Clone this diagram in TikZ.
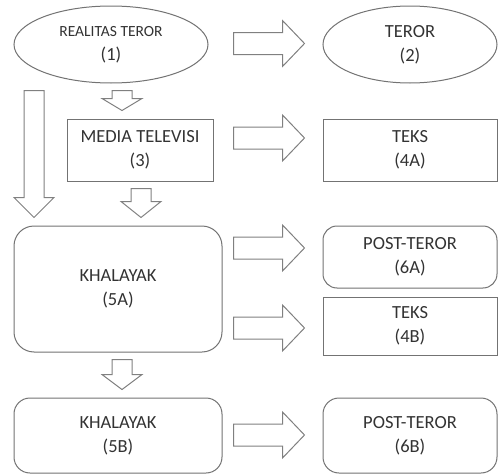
\documentclass[tikz,border=0pt]{standalone}
\usepackage{fontspec}
\setmainfont{Carlito}
\usepackage{tikz}
\usetikzlibrary{positioning, shapes.geometric, calc}

% block arrow to the right, ending in front of node #2, at height #3
\newcommand{\rightblock}[3]{%
  \draw[block arrow] let \p2=(#2.west) in
    ({\x2-89pt},{-#3pt+11pt}) -- ({\x2-40pt},{-#3pt+11pt}) -- ({\x2-40pt},{-#3pt+23pt})
    -- ({\x2-18pt},{-#3pt}) -- ({\x2-40pt},{-#3pt-23pt}) -- ({\x2-40pt},{-#3pt-11pt})
    -- ({\x2-89pt},{-#3pt-11pt}) -- cycle;}
% block arrow downwards from node #1 to node #2, at x #3, head length #4
\newcommand{\downblock}[4]{%
  \draw[block arrow] let \p1=(#1.south), \p2=(#2.north) in
    ({#3pt-10pt},{\y1-7pt}) -- ({#3pt+10pt},{\y1-7pt}) -- ({#3pt+10pt},{\y2+8pt+#4pt})
    -- ({#3pt+20pt},{\y2+8pt+#4pt}) -- ({#3pt},{\y2+8pt}) -- ({#3pt-20pt},{\y2+8pt+#4pt})
    -- ({#3pt-10pt},{\y2+8pt+#4pt}) -- cycle;}

\begin{document}
\begin{tikzpicture}[
    x=1pt, y=-1pt,
    font=\fontsize{18.5}{24}\selectfont,
    text=black!80,
    box/.style={draw=black!55, line width=1pt, fill=white, align=center,
        inner sep=0pt, minimum width=174pt, minimum height=62pt},
    oval/.style={box, ellipse},
    soft box/.style={box, rounded corners=14pt},
    block arrow/.style={draw=black!50, line width=1pt, fill=white, line join=miter}
]
    \useasboundingbox (0,0) rectangle (499,474);

    % --- top row ---
    \node[oval, minimum width=194pt, minimum height=77pt] (realitas) at (111,44.5)
        {{\fontsize{15.5}{22}\selectfont REALITAS TEROR}\\(1)};
    \node[oval, minimum height=77pt] (teror) at (410,44.5) {TEROR\\(2)};

    % --- media row ---
    \node[box, minimum width=146pt] (media) at (140,150) {MEDIA TELEVISI\\(3)};
    \node[box] (teksA) at (410,150) {TEKS\\(4A)};

    % --- audience ---
    \node[soft box, minimum width=208pt, minimum height=126pt, rounded corners=20pt]
        (khalayakA) at (118,289) {KHALAYAK\\(5A)};
    \node[soft box] (postA) at (410,257) {POST-TEROR\\(6A)};
    \node[box, minimum height=58pt] (teksB) at (410,326) {TEKS\\(4B)};

    % --- bottom row ---
    \node[soft box, minimum width=208pt, minimum height=75pt, rounded corners=16pt]
        (khalayakB) at (118,435.5) {KHALAYAK\\(5B)};
    \node[soft box, minimum height=75pt, rounded corners=16pt] (postB) at (410,435.5)
        {POST-TEROR\\(6B)};

    % --- arrows ---
    \rightblock{realitas}{teror}{43.5}
    \rightblock{media}{teksA}{138}
    \rightblock{khalayakA}{postA}{248}
    \rightblock{khalayakA}{teksB}{328}
    \rightblock{khalayakB}{postB}{435}

    \downblock{realitas}{media}{122}{12}
    \downblock{media}{khalayakA}{141}{16}
    \downblock{khalayakA}{khalayakB}{122}{15}
    \downblock{realitas}{khalayakA}{34}{20}

\end{tikzpicture}
\end{document}
